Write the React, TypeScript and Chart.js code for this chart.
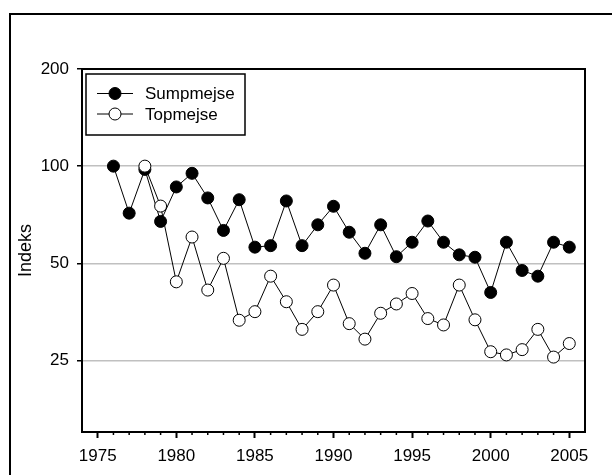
import React, { useEffect, useRef } from "react";
import { Chart, registerables } from "chart.js";

Chart.register(...registerables);

const years = [
  1976, 1977, 1978, 1979, 1980, 1981, 1982, 1983, 1984, 1985,
  1986, 1987, 1988, 1989, 1990, 1991, 1992, 1993, 1994, 1995,
  1996, 1997, 1998, 1999, 2000, 2001, 2002, 2003, 2004, 2005,
];

const sumpmejse = [
  100, 71.5, 97.7, 67.4, 86.2, 95, 79.7, 63.2, 78.7, 56.1,
  56.7, 78, 56.7, 65.8, 75.1, 62.4, 53.7, 65.8, 52.4, 58.1,
  67.6, 58.1, 53.1, 52.2, 40.6, 58.1, 47.5, 45.6, 58.1, 56.1,
];

const topmejse = [
  null, null, 100, 75.2, 43.8, 60.3, 41.3, 51.8, 33.3, 35.4,
  45.6, 38.0, 31.2, 35.4, 42.8, 32.5, 29.1, 35.0, 37.4, 40.3,
  33.7, 32.2, 42.8, 33.4, 26.6, 26.0, 27.0, 31.2, 25.6, 28.2,
];

const xMajorTicks = [1975, 1980, 1985, 1990, 1995, 2000, 2005];
const xMinorTicks = [
  1976, 1977, 1978, 1979, 1981, 1982, 1983, 1984, 1986, 1987, 1988, 1989,
  1991, 1992, 1993, 1994, 1996, 1997, 1998, 1999, 2001, 2002, 2003, 2004,
];
const yTicks = [25, 50, 100, 200];

const FONT = "'Liberation Sans', Arial, sans-serif";

export default function App() {
  const ref = useRef<HTMLCanvasElement | null>(null);

  useEffect(() => {
    document.body.style.margin = "0";
    const canvas = ref.current;
    if (!canvas) return;

    const framePlugin = {
      id: "frame",
      beforeDraw(chart: any) {
        const ctx = chart.ctx;
        ctx.save();
        ctx.fillStyle = "#fff";
        ctx.fillRect(0, 0, chart.width, chart.height);
        ctx.strokeStyle = "#000";
        ctx.lineWidth = 2;
        ctx.strokeRect(10, 14, chart.width + 20, chart.height + 20);
        ctx.restore();
      },
      afterDraw(chart: any) {
        const ctx = chart.ctx;
        const a = chart.chartArea;
        const xs = chart.scales.x;
        ctx.save();
        // minor ticks
        ctx.strokeStyle = "#000";
        ctx.lineWidth = 1.5;
        ctx.beginPath();
        for (const t of xMinorTicks) {
          const px = xs.getPixelForValue(t);
          ctx.moveTo(px, a.bottom);
          ctx.lineTo(px, a.bottom + 3);
        }
        ctx.stroke();
        // top and right border
        ctx.lineWidth = 2;
        ctx.beginPath();
        ctx.moveTo(a.left, a.top);
        ctx.lineTo(a.right, a.top);
        ctx.lineTo(a.right, a.bottom + 1);
        ctx.stroke();

        // legend
        const lx = a.left + 4;
        const ly = a.top + 5;
        const lw = 159;
        const lh = 61;
        ctx.fillStyle = "#fff";
        ctx.fillRect(lx, ly, lw, lh);
        ctx.lineWidth = 1.5;
        ctx.strokeRect(lx, ly, lw, lh);
        const items = [
          { label: chart.data.datasets[1].label, fill: "#000", y: ly + 19.5 },
          { label: chart.data.datasets[0].label, fill: "#fff", y: ly + 40 },
        ];
        for (const it of items) {
          ctx.lineWidth = 1;
          ctx.strokeStyle = "#000";
          ctx.beginPath();
          ctx.moveTo(lx + 11, it.y);
          ctx.lineTo(lx + 47, it.y);
          ctx.stroke();
          ctx.beginPath();
          ctx.arc(lx + 29, it.y, 6, 0, Math.PI * 2);
          ctx.fillStyle = it.fill;
          ctx.fill();
          ctx.stroke();
          ctx.fillStyle = "#000";
          ctx.font = `17px ${FONT}`;
          ctx.textBaseline = "middle";
          ctx.textAlign = "left";
          ctx.fillText(it.label, lx + 59, it.y + 1);
        }
        ctx.restore();
      },
    };

    const chart = new Chart(canvas, {
      type: "line",
      data: {
        labels: years,
        datasets: [
          {
            label: "Topmejse",
            data: years.map((y, i) => ({ x: y, y: topmejse[i] })),
            borderColor: "#000",
            borderWidth: 1,
            pointRadius: 6,
            pointBackgroundColor: "#fff",
            pointBorderColor: "#000",
            pointBorderWidth: 1,
            tension: 0,
            spanGaps: false,
          },
          {
            label: "Sumpmejse",
            data: years.map((y, i) => ({ x: y, y: sumpmejse[i] })),
            borderColor: "#000",
            borderWidth: 1,
            pointRadius: 6,
            pointBackgroundColor: "#000",
            pointBorderColor: "#000",
            pointBorderWidth: 1,
            tension: 0,
          },
        ],
      } as any,
      options: {
        responsive: false,
        animation: false,
        layout: { padding: { top: 69, right: 27, left: 0, bottom: 0 } },
        plugins: {
          legend: { display: false },
          tooltip: { enabled: false },
        },
        scales: {
          x: {
            type: "linear",
            min: 1974,
            max: 2006,
            afterBuildTicks: (s: any) => {
              s.ticks = xMajorTicks.map((v) => ({ value: v }));
            },
            afterFit: (s: any) => {
              s.height = 43;
            },
            ticks: {
              color: "#000",
              font: { family: FONT, size: 17 },
              padding: 8,
              maxRotation: 0,
              autoSkip: false,
              callback: (v: any) => String(v),
            },
            grid: {
              drawOnChartArea: false,
              drawTicks: true,
              tickLength: 6,
              tickColor: "#000",
              tickWidth: 2,
            },
            border: { display: true, color: "#000", width: 2 },
          },
          y: {
            type: "logarithmic",
            min: 15,
            max: 200,
            afterBuildTicks: (s: any) => {
              s.ticks = yTicks.map((v) => ({ value: v }));
            },
            afterFit: (s: any) => {
              s.width = 82;
            },
            ticks: {
              color: "#000",
              font: { family: FONT, size: 17 },
              padding: 8,
              autoSkip: false,
              callback: (v: any) => String(v),
            },
            grid: {
              color: (c: any) => (c.tick && c.tick.value === 200 ? "rgba(0,0,0,0)" : "#c0c0c0"),
              lineWidth: 1.5,
              drawTicks: true,
              tickLength: 5,
              tickColor: "#000",
              tickWidth: 1.5,
            },
            border: { display: true, color: "#000", width: 2 },
            title: {
              display: true,
              text: "Indeks",
              color: "#000",
              font: { family: FONT, size: 18 },
              padding: { top: 15, bottom: 0 },
            },
          },
        },
      } as any,
      plugins: [framePlugin],
    });

    return () => chart.destroy();
  }, []);

  return (
    <canvas
      ref={ref}
      width={612}
      height={475}
      style={{ display: "block", width: 612, height: 475 }}
    />
  );
}
